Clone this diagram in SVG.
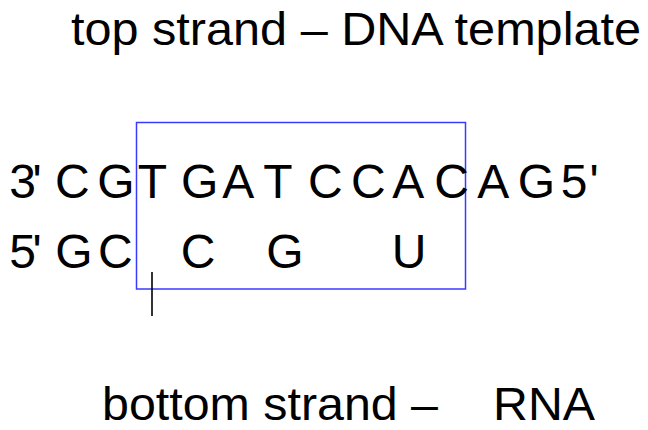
<svg xmlns="http://www.w3.org/2000/svg" width="648" height="430" viewBox="0 0 648 430">
<style>
text{font-family:"Liberation Sans",Arial,sans-serif;fill:#000}
.lbl{font-size:46px}
.seq{font-size:48px;text-anchor:middle}
.box{fill:none;stroke:#3a3aff;stroke-width:1.5}
.tick{stroke:#000;stroke-width:1.6}
</style>
<rect width="648" height="430" fill="#fff"/>
<g id="title"><text class="lbl" x="71" y="45" textLength="570" lengthAdjust="spacingAndGlyphs">top strand – DNA template</text></g>
<g id="box"><rect class="box" x="136.5" y="122.5" width="329" height="166.5"/></g>
<g id="top-strand"><text class="seq" x="22.5 37 72.3 115.8 152.3 199.7 238.3 278 325.3 368.3 408.3 451.5 493.3 536.5 574 594" y="198">3'CGTGATCCACAG5'</text></g>
<g id="bottom-strand"><text class="seq" x="22.5 37 74 115.3 198 285 409" y="268">5'GCCGU</text></g>
<g id="connectors"><line class="tick" x1="152" y1="272" x2="152" y2="316"/></g>
<g id="bottom-label"><text class="lbl" x="102" y="420" textLength="336" lengthAdjust="spacingAndGlyphs">bottom strand –</text><text class="lbl" x="493" y="420" textLength="102" lengthAdjust="spacingAndGlyphs">RNA</text></g>
</svg>
